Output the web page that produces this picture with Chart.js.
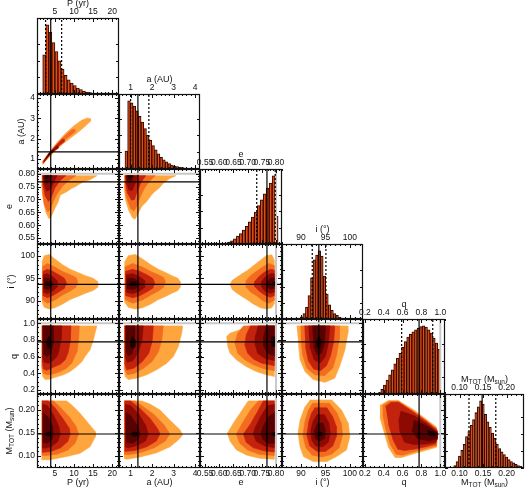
<!DOCTYPE html>
<html lang="en">
<head>
<meta charset="UTF-8" />
<script src="https://cdn.jsdelivr.net/npm/chart.js@4.4.1/dist/chart.umd.min.js"></script>
<title>Corner plot</title>
<style>
  body { margin: 0; background: #fff; width: 525px; height: 490px; position: relative; overflow: hidden; }
  canvas { position: absolute; }
</style>
</head>
<body>
<script>
// tick labels of each parameter
const tickP = [5, 10, 15, 20];
const tickA = [1, 2, 3, 4];
const tickE = [0.55, 0.60, 0.65, 0.70, 0.75, 0.80];
const tickI = [90, 95, 100];
const tickQ = [0.2, 0.4, 0.6, 0.8, 1.0];
const tickM = [0.10, 0.15, 0.20];

// 1D histograms (bin centres, counts)
const binsP = [2.2, 3.0, 3.8, 4.6, 5.4, 6.2, 7.0, 7.8, 8.6, 9.4, 10.2, 11.0, 11.8, 12.6, 13.4, 14.2, 15.0, 15.8, 16.6];
const countsP = [118, 208, 186, 155, 128, 100, 75, 56, 43, 33, 25, 18, 13, 9, 6, 4, 3, 2, 1];
const binsA = [0.8, 0.925, 1.05, 1.175, 1.3, 1.425, 1.55, 1.675, 1.8, 1.925, 2.05, 2.175, 2.3, 2.425, 2.55, 2.675, 2.8, 2.925, 3.05, 3.175, 3.3, 3.425, 3.55, 3.675];
const countsA = [53, 203, 197, 187, 173, 157, 140, 120, 100, 85, 70, 57, 45, 35, 27, 21, 16, 12, 9, 7, 5, 4, 3, 2];
const binsE = [0.613, 0.6235, 0.634, 0.6445, 0.655, 0.6655, 0.676, 0.6865, 0.697, 0.7075, 0.718, 0.7285, 0.739, 0.7495, 0.76, 0.7705, 0.781, 0.7915, 0.802];
const countsE = [1, 3, 6, 10, 16, 24, 32, 42, 54, 67, 82, 97, 117, 134, 152, 170, 185, 207, 84];
const binsI = [89.60, 90.12, 90.64, 91.16, 91.68, 92.20, 92.72, 93.24, 93.76, 94.28, 94.80, 95.32, 95.84, 96.36, 96.88, 97.40, 97.92, 98.44, 98.96];
const countsI = [2, 7, 17, 37, 72, 127, 182, 197, 210, 194, 132, 77, 44, 27, 17, 11, 6, 3, 1];
const binsQ = [0.355, 0.3825, 0.41, 0.4375, 0.465, 0.4925, 0.52, 0.5475, 0.575, 0.6025, 0.63, 0.6575, 0.685, 0.7125, 0.74, 0.7675, 0.795, 0.8225, 0.85, 0.8775, 0.905, 0.9325, 0.96, 0.9875];
const countsQ = [4, 14, 27, 42, 57, 72, 90, 107, 122, 140, 157, 170, 179, 186, 192, 197, 202, 204, 200, 192, 182, 167, 152, 134];
const binsM = [0.090, 0.095, 0.100, 0.105, 0.110, 0.115, 0.120, 0.125, 0.130, 0.135, 0.140, 0.145, 0.150, 0.155, 0.160, 0.165, 0.170, 0.175, 0.180, 0.185, 0.190, 0.195, 0.200, 0.205, 0.210, 0.215, 0.220, 0.225, 0.230];
const countsM = [7, 19, 35, 52, 69, 92, 107, 125, 142, 162, 179, 197, 187, 157, 135, 119, 102, 87, 69, 57, 47, 39, 32, 25, 19, 15, 11, 7, 5];

// marker lines: solid = best value, dotted = 16/84 %, grey = physical limit
const truthVals = [3.9, 1.34, 0.768, 93.65, 0.775, 0.148];
const lowVals = [2.55, 1.0, 0.732, 92.3, 0.59, 0.12];
const highVals = [6.76, 1.85, 0.797, 95.1, 0.92, 0.177];
const limitVals = [null, null, 0.80, null, 1.0, null];

// 2D credible regions, outermost to innermost, [x, y] vertices
const contPA = [
  [[1.7,0.82],[2,0.93],[3,1.2],[4,1.45],[6,1.9],[8,2.3],[10,2.63],[12,2.9],[13.5,3.02],[14.3,2.98],[14.3,2.85],[13,2.62],[11,2.3],[9,2.02],[7,1.72],[5,1.38],[3.5,1.07],[2.5,0.88],[1.8,0.72]],
  [[1.8,0.84],[2,0.91],[3,1.17],[4,1.41],[6,1.84],[8,2.2],[9.5,2.45],[10.2,2.45],[10.2,2.32],[8,2.0],[6,1.68],[4,1.27],[3,1.04],[2,0.8],[1.85,0.75]],
  [[1.9,0.86],[3,1.15],[4,1.38],[5.5,1.7],[7,1.98],[7.4,1.96],[7.4,1.84],[5.5,1.55],[4,1.29],[3,1.06],[2,0.8]],
  [[2.1,0.9],[3,1.13],[4,1.36],[5.5,1.65],[5.8,1.62],[5.8,1.52],[4,1.3],[3,1.08],[2.2,0.86]],
  [[2.6,1.02],[3.5,1.24],[4.5,1.45],[4.7,1.42],[4.6,1.38],[3.5,1.19],[2.7,0.99]],
  [[3.2,1.21],[4,1.37],[4.2,1.33],[3.3,1.16]]
];
const contPE = [
  [[1.5,0.792],[16.0,0.792],[14.2,0.776],[12.5,0.769],[11.6,0.761],[10.3,0.749],[9.4,0.743],[8.1,0.73],[6.4,0.717],[5.9,0.692],[5.0,0.666],[3.9,0.63],[3.4,0.626],[2.5,0.655],[1.8,0.715],[1.5,0.76]],
  [[1.6,0.792],[10.5,0.792],[8.8,0.775],[7.0,0.752],[5.5,0.72],[4.5,0.69],[3.8,0.66],[3.1,0.652],[2.2,0.68],[1.7,0.73]],
  [[1.7,0.792],[7.8,0.792],[6.3,0.772],[5.0,0.745],[4.1,0.71],[3.3,0.692],[2.4,0.715],[1.8,0.76]],
  [[1.8,0.792],[5.6,0.792],[4.7,0.768],[3.8,0.738],[2.8,0.732],[2.0,0.768]],
  [[2.0,0.792],[4.2,0.792],[3.6,0.772],[2.7,0.762],[2.1,0.78]],
  [[2.4,0.792],[3.4,0.792],[3.1,0.782],[2.6,0.78]]
];
const contAE = [
  [[0.69,0.792],[3.11,0.792],[2.83,0.782],[2.52,0.763],[2.33,0.744],[2.13,0.731],[1.98,0.718],[1.75,0.692],[1.52,0.673],[1.40,0.654],[1.28,0.635],[1.20,0.623],[1.08,0.63],[0.9,0.66],[0.76,0.7],[0.7,0.75]],
  [[0.72,0.792],[2.15,0.792],[1.9,0.772],[1.65,0.745],[1.45,0.71],[1.3,0.675],[1.15,0.655],[1.0,0.665],[0.8,0.71],[0.73,0.75]],
  [[0.74,0.792],[1.7,0.792],[1.5,0.768],[1.32,0.735],[1.18,0.70],[1.05,0.697],[0.85,0.725],[0.76,0.765]],
  [[0.76,0.792],[1.35,0.792],[1.22,0.765],[1.08,0.735],[0.92,0.737],[0.79,0.77]],
  [[0.8,0.792],[1.15,0.792],[1.05,0.772],[0.9,0.765],[0.82,0.78]],
  [[0.86,0.792],[1.08,0.792],[1.0,0.782],[0.9,0.781]]
];
const contPI = [
  [[1.6,98.5],[2.2,100],[3.5,100.3],[5,99.3],[7,98],[9,97],[11,96.3],[13,95.6],[15,95],[16.2,94.3],[16.2,93],[15,92.3],[13,91.7],[11,91],[9,90.3],[7,89.3],[5,88.5],[3.5,88.2],[2.2,88.6],[1.6,89.8]],
  [[1.7,97.5],[3,98.3],[5,97.5],[7,96.5],[9,95.8],[10.5,95.2],[11,94.3],[10.5,93],[9,92.2],[7,91.3],[5,90.2],[3,89.5],[1.7,90.3]],
  [[1.8,96.5],[3,97],[4.5,96.5],[6,95.8],[7.5,95],[8,94],[7.5,92.8],[6,92],[4.5,91.2],[3,90.7],[1.8,91.2]],
  [[1.9,95.8],[3,96],[4.5,95.3],[5.5,94.5],[5.5,93],[4.5,92.2],[3,91.6],[1.9,92]],
  [[2.1,95],[3.2,95],[4.2,94.3],[4.2,93.2],[3.2,92.5],[2.1,92.8]],
  [[2.6,94.2],[3.6,94.2],[3.6,93.4],[2.6,93.4]]
];
const contAI = [
  [[0.71,98.5],[0.89,100],[1.22,100.3],[1.55,99.3],[1.94,98],[2.29,97],[2.62,96.3],[2.92,95.6],[3.2,95],[3.3,94.3],[3.3,93],[3.2,92.3],[2.92,91.7],[2.62,91],[2.29,90.3],[1.94,89.3],[1.55,88.5],[1.22,88.2],[0.89,88.6],[0.71,89.8]],
  [[0.73,97.5],[1.1,98.3],[1.55,97.5],[1.94,96.5],[2.29,95.8],[2.53,95.2],[2.62,94.3],[2.53,93],[2.29,92.2],[1.94,91.3],[1.55,90.2],[1.1,89.5],[0.73,90.3]],
  [[0.75,96.5],[1.1,97],[1.44,96.5],[1.75,95.8],[2.03,95],[2.12,94],[2.03,92.8],[1.75,92],[1.44,91.2],[1.1,90.7],[0.75,91.2]],
  [[0.78,95.8],[1.1,96],[1.44,95.3],[1.65,94.5],[1.65,93],[1.44,92.2],[1.1,91.6],[0.78,92]],
  [[0.83,95],[1.14,95],[1.37,94.3],[1.37,93.2],[1.14,92.5],[0.83,92.8]],
  [[0.98,94.2],[1.24,94.2],[1.24,93.4],[0.98,93.4]]
];
const contEI = [
  [[0.795,98.8],[0.785,100.2],[0.765,100],[0.745,99],[0.72,97.8],[0.70,96.8],[0.68,96],[0.66,95.2],[0.645,94.5],[0.638,93.6],[0.645,92.6],[0.66,91.8],[0.68,91],[0.70,90.2],[0.72,89.3],[0.745,88.5],[0.765,88.2],[0.785,88.5],[0.795,89.5]],
  [[0.795,97.8],[0.775,98.3],[0.755,97.6],[0.73,96.5],[0.71,95.6],[0.695,94.5],[0.695,93],[0.71,92],[0.73,91.2],[0.755,90],[0.775,89.5],[0.795,90.2]],
  [[0.795,96.8],[0.78,97],[0.76,96.4],[0.74,95.4],[0.725,94.3],[0.725,93.2],[0.74,92.2],[0.76,91.3],[0.78,90.8],[0.795,91.2]],
  [[0.795,96],[0.78,96],[0.76,95.2],[0.75,94.3],[0.75,93.1],[0.76,92.2],[0.78,91.7],[0.795,92]],
  [[0.795,95.1],[0.78,95],[0.77,94.3],[0.77,93.2],[0.78,92.6],[0.795,92.8]],
  [[0.787,94.2],[0.797,94.2],[0.797,93.4],[0.787,93.4]]
];
const contPQ = [
  [[1.5,0.967],[16,0.967],[15.5,0.88],[15.1,0.80],[14.2,0.68],[12.9,0.60],[12.1,0.54],[10.7,0.48],[9.0,0.42],[7.2,0.38],[5.5,0.356],[3.7,0.33],[2.4,0.324],[1.8,0.36],[1.5,0.48]],
  [[1.55,0.967],[11.4,0.967],[11.2,0.80],[10.8,0.66],[9.4,0.52],[8,0.46],[6.4,0.42],[4.5,0.39],[2.9,0.38],[1.9,0.40],[1.55,0.5]],
  [[1.6,0.967],[9.2,0.967],[9.0,0.78],[8.5,0.65],[7.7,0.56],[6.5,0.51],[5.0,0.48],[2.9,0.435],[2.0,0.45],[1.6,0.55]],
  [[1.7,0.967],[6.8,0.967],[6.6,0.80],[6.0,0.66],[5.5,0.60],[4.5,0.55],[3.3,0.52],[2.2,0.53],[1.7,0.6]],
  [[1.8,0.967],[4.6,0.967],[4.5,0.75],[4.0,0.64],[3.0,0.60],[2.0,0.63]],
  [[3.3,0.85],[3.7,0.8],[3.7,0.72],[3.3,0.69],[2.9,0.72],[2.9,0.8]]
];
const contAQ = [
  [[0.69,0.967],[3.42,0.967],[3.38,0.88],[3.22,0.72],[2.99,0.60],[2.68,0.52],[2.21,0.44],[1.75,0.38],[1.28,0.34],[0.89,0.324],[0.74,0.36],[0.69,0.48]],
  [[0.7,0.967],[2.52,0.967],[2.45,0.80],[2.3,0.66],[2.0,0.54],[1.6,0.46],[1.2,0.40],[0.85,0.38],[0.72,0.45]],
  [[0.72,0.967],[2.06,0.967],[2.0,0.78],[1.85,0.64],[1.55,0.54],[1.15,0.46],[0.82,0.44],[0.72,0.52]],
  [[0.74,0.967],[1.59,0.967],[1.52,0.78],[1.35,0.64],[1.1,0.55],[0.85,0.53],[0.74,0.6]],
  [[0.78,0.967],[1.2,0.967],[1.18,0.76],[1.05,0.63],[0.88,0.61],[0.78,0.66]],
  [[1.1,0.85],[1.2,0.8],[1.2,0.72],[1.1,0.69],[1.0,0.72],[1.0,0.8]]
];
const contEQ = [
  [[0.795,0.967],[0.702,0.967],[0.673,0.92],[0.638,0.88],[0.626,0.84],[0.63,0.72],[0.638,0.64],[0.66,0.56],[0.695,0.48],[0.73,0.42],[0.767,0.38],[0.795,0.36]],
  [[0.795,0.967],[0.685,0.967],[0.665,0.88],[0.655,0.76],[0.665,0.64],[0.69,0.56],[0.72,0.50],[0.76,0.45],[0.795,0.43]],
  [[0.795,0.967],[0.71,0.967],[0.695,0.86],[0.69,0.74],[0.70,0.64],[0.72,0.57],[0.75,0.52],[0.795,0.49]],
  [[0.795,0.967],[0.737,0.967],[0.728,0.85],[0.727,0.74],[0.735,0.64],[0.76,0.58],[0.795,0.55]],
  [[0.795,0.967],[0.765,0.967],[0.757,0.84],[0.757,0.72],[0.77,0.64],[0.795,0.61]],
  [[0.797,0.84],[0.797,0.72],[0.785,0.72],[0.785,0.84]]
];
const contIQ = [
  [[89.1,0.967],[99.6,0.967],[99.6,0.88],[99.0,0.68],[97.9,0.48],[96.9,0.34],[94.9,0.29],[92.5,0.324],[90.8,0.42],[89.8,0.56],[89.4,0.80]],
  [[89.9,0.967],[97.9,0.967],[97.8,0.80],[97.3,0.62],[96.5,0.46],[94.8,0.37],[92.8,0.38],[91.2,0.46],[90.3,0.62],[90.0,0.80]],
  [[90.7,0.967],[96.9,0.967],[96.7,0.78],[96.0,0.60],[95.2,0.49],[94.0,0.43],[92.6,0.45],[91.5,0.55],[90.9,0.72]],
  [[91.5,0.967],[95.9,0.967],[95.6,0.76],[95.0,0.60],[93.9,0.52],[92.7,0.56],[91.8,0.72]],
  [[92.3,0.967],[95.0,0.967],[94.8,0.76],[94.2,0.64],[93.3,0.62],[92.6,0.72]],
  [[93.6,0.85],[94.1,0.8],[94.0,0.72],[93.6,0.69],[93.2,0.72],[93.2,0.8]]
];
const contPM = [
  [[1.5,0.220],[8.1,0.220],[9.4,0.211],[11.6,0.193],[13.8,0.171],[15.6,0.153],[15.6,0.142],[14.2,0.120],[11.6,0.106],[8.1,0.099],[3.7,0.092],[1.5,0.092]],
  [[1.55,0.220],[4.6,0.220],[6.5,0.205],[8.8,0.185],[10.5,0.165],[11.2,0.148],[10.3,0.128],[8.4,0.113],[5.5,0.104],[2.5,0.101],[1.55,0.102]],
  [[1.6,0.220],[3.3,0.220],[5.0,0.205],[7.2,0.18],[8.8,0.16],[9.0,0.148],[8.4,0.132],[6.5,0.118],[4.0,0.110],[1.6,0.108]],
  [[1.7,0.213],[3.0,0.21],[4.6,0.19],[6.0,0.165],[6.4,0.148],[5.8,0.132],[4.3,0.122],[2.5,0.117],[1.7,0.118]],
  [[1.8,0.195],[3.2,0.185],[4.4,0.165],[4.6,0.148],[4.2,0.135],[3.0,0.128],[1.8,0.13]],
  [[3.3,0.153],[3.8,0.151],[3.8,0.145],[3.3,0.143],[2.8,0.145],[2.8,0.151]]
];
const contAM = [
  [[0.69,0.220],[1.52,0.220],[1.90,0.213],[2.37,0.200],[2.83,0.178],[3.3,0.157],[3.42,0.146],[3.22,0.135],[2.83,0.120],[2.21,0.107],[1.44,0.098],[0.82,0.093],[0.69,0.095]],
  [[0.7,0.220],[1.2,0.220],[1.6,0.207],[2.1,0.19],[2.55,0.168],[2.83,0.148],[2.6,0.132],[2.1,0.118],[1.5,0.108],[0.9,0.103],[0.7,0.104]],
  [[0.72,0.220],[1.0,0.220],[1.4,0.205],[1.9,0.182],[2.25,0.16],[2.37,0.148],[2.2,0.133],[1.75,0.12],[1.2,0.112],[0.72,0.11]],
  [[0.74,0.212],[1.0,0.21],[1.4,0.19],[1.7,0.167],[1.82,0.148],[1.7,0.133],[1.3,0.123],[0.9,0.118],[0.74,0.12]],
  [[0.76,0.196],[1.0,0.188],[1.3,0.167],[1.44,0.148],[1.35,0.136],[1.1,0.128],[0.8,0.13]],
  [[1.18,0.153],[1.3,0.151],[1.3,0.145],[1.18,0.143],[1.06,0.145],[1.06,0.151]]
];
const contEM = [
  [[0.795,0.220],[0.702,0.220],[0.69,0.209],[0.673,0.193],[0.649,0.171],[0.629,0.150],[0.638,0.132],[0.661,0.113],[0.697,0.102],[0.743,0.095],[0.795,0.093]],
  [[0.795,0.220],[0.738,0.220],[0.71,0.2],[0.685,0.175],[0.66,0.148],[0.672,0.128],[0.70,0.113],[0.74,0.104],[0.795,0.101]],
  [[0.795,0.220],[0.755,0.220],[0.735,0.197],[0.71,0.17],[0.685,0.148],[0.695,0.13],[0.72,0.118],[0.76,0.111],[0.795,0.109]],
  [[0.795,0.212],[0.77,0.21],[0.745,0.185],[0.725,0.16],[0.72,0.148],[0.73,0.132],[0.76,0.122],[0.795,0.118]],
  [[0.795,0.195],[0.775,0.187],[0.755,0.165],[0.747,0.148],[0.755,0.135],[0.775,0.128],[0.795,0.128]],
  [[0.797,0.153],[0.797,0.143],[0.785,0.145],[0.785,0.151]]
];
const contIM = [
  [[91.8,0.222],[96.3,0.222],[98.3,0.200],[99.7,0.171],[100,0.142],[99.3,0.113],[97.3,0.099],[95.3,0.088],[92.5,0.088],[90.5,0.099],[89.8,0.120],[89.4,0.150],[89.8,0.178],[90.8,0.207]],
  [[92.3,0.215],[95.8,0.215],[97.3,0.195],[98.3,0.170],[98.5,0.145],[97.8,0.118],[96.3,0.104],[94.3,0.098],[92.3,0.102],[91.0,0.118],[90.4,0.145],[90.8,0.175],[91.5,0.200]],
  [[92.8,0.205],[95.3,0.205],[96.5,0.185],[97.2,0.165],[97.2,0.142],[96.5,0.122],[95.0,0.110],[93.3,0.110],[91.8,0.122],[91.2,0.145],[91.6,0.175],[92.2,0.195]],
  [[93.2,0.190],[94.8,0.19],[95.7,0.172],[96.0,0.15],[95.6,0.13],[94.4,0.12],[93.0,0.122],[92.2,0.135],[92.0,0.155],[92.5,0.177]],
  [[93.3,0.172],[94.5,0.172],[95.0,0.155],[94.8,0.138],[93.8,0.132],[92.9,0.138],[92.7,0.155]],
  [[93.4,0.152],[94.2,0.152],[94.2,0.144],[93.4,0.144]]
];
const contQM = [
  [[0.36,0.210],[0.45,0.221],[0.555,0.221],[0.73,0.199],[0.87,0.177],[0.96,0.163],[0.97,0.141],[0.96,0.119],[0.84,0.112],[0.70,0.104],[0.59,0.097],[0.52,0.097],[0.45,0.119],[0.40,0.155],[0.36,0.184]],
  [[0.39,0.210],[0.46,0.219],[0.55,0.219],[0.72,0.197],[0.86,0.176],[0.96,0.160],[0.965,0.14],[0.955,0.122],[0.84,0.116],[0.70,0.108],[0.6,0.102],[0.53,0.104],[0.47,0.125],[0.42,0.16],[0.39,0.19]],
  [[0.42,0.208],[0.48,0.217],[0.56,0.217],[0.72,0.195],[0.86,0.174],[0.96,0.157],[0.965,0.138],[0.95,0.126],[0.84,0.12],[0.72,0.115],[0.62,0.112],[0.55,0.115],[0.5,0.135],[0.45,0.17]],
  [[0.58,0.198],[0.72,0.188],[0.86,0.17],[0.96,0.154],[0.965,0.136],[0.95,0.13],[0.84,0.126],[0.72,0.125],[0.62,0.13],[0.57,0.155],[0.56,0.18]],
  [[0.72,0.178],[0.86,0.165],[0.96,0.152],[0.965,0.138],[0.88,0.133],[0.76,0.138],[0.7,0.155]],
  [[0.86,0.156],[0.94,0.152],[0.95,0.144],[0.88,0.145]]
];

// ---- layout & style ----
const FONT = 'Liberation Sans';
Chart.defaults.font.family = FONT;
const colEdges = [37, 119, 200, 282, 363, 445, 524];
const rowEdges = [18, 94, 169, 244, 319, 394, 468];
const PAD = { l: 40, t: 20, r: 14, b: 26 };
const LEVEL_COLORS = ['#FFA53E', '#F26B1E', '#C3220D', '#8C0A02', '#560202', '#1E0000'];
const HIST_FILL = '#E64A12', HIST_EDGE = '#2b0a00';

const varOrder = ['P', 'a', 'e', 'i', 'q', 'M'];
const tickVals = { P: tickP, a: tickA, e: tickE, i: tickI, q: tickQ, M: tickM };
const hists = { P: [binsP, countsP], a: [binsA, countsA], e: [binsE, countsE], i: [binsI, countsI], q: [binsQ, countsQ], M: [binsM, countsM] };
const contours = {
  'P|a': contPA, 'P|e': contPE, 'a|e': contAE, 'P|i': contPI, 'a|i': contAI, 'e|i': contEI,
  'P|q': contPQ, 'a|q': contAQ, 'e|q': contEQ, 'i|q': contIQ,
  'P|M': contPM, 'a|M': contAM, 'e|M': contEM, 'i|M': contIM, 'q|M': contQM
};
const rangeX = { P: [0.3, 21.8], a: [0.46, 4.23], e: [0.532, 0.821], i: [86.1, 102.7], q: [0.18, 1.05], M: [0.069, 0.237] };
const rangeY = { a: [0.5, 4.2], e: [0.527, 0.818], i: [86.0, 102.6], q: [0.15, 1.05], M: [0.074, 0.235] };
const minorStep = { P: 1, a: 0.2, e: 0.01, i: 1, q: 0.05, M: 0.01 };
const decimals = { P: 0, a: 0, e: 2, i: 0, q: 1, M: 2 };
const axisTitle = {
  P: [['P (yr)']], a: [['a (AU)']], e: [['e']], i: [['i (°)']], q: [['q']],
  M: [['M'], ['TOT', 1], [' (M'], ['sun', 1], [')']]
};
const fmt = (v, t) => Number(t).toFixed(decimals[v]);

function baseScale(v, range, show, pad) {
  return {
    type: 'linear', display: show, min: range[0], max: range[1], offset: false,
    afterBuildTicks: sc => { sc.ticks = tickVals[v].map(t => ({ value: t })); },
    grid: { display: false, drawTicks: false }, border: { display: false },
    ticks: { autoSkip: false, maxRotation: 0, minRotation: 0, padding: pad, color: '#111',
      font: { family: FONT, size: 8.5 }, callback: t => fmt(v, t) }
  };
}
function xScale(v, pos, show) {
  const s = baseScale(v, rangeX[v], show, 1);
  s.position = pos;
  if (show) s.afterFit = sc => { sc.height = pos === 'top' ? PAD.t : PAD.b; };
  return s;
}
function yScale(v, show) {
  const s = baseScale(v, rangeY[v], show, 2);
  s.position = 'left';
  if (show) s.afterFit = sc => { sc.width = PAD.l; };
  return s;
}

function seg(x0, y0, x1, y1, color, width, dash) {
  return { type: 'line', data: [{ x: x0, y: y0 }, { x: x1, y: y1 }], borderColor: color, borderWidth: width,
    borderDash: dash || [], pointRadius: 0, fill: false, order: 0, xAxisID: 'x', yAxisID: 'y' };
}

function drawRich(ctx, parts, x, y, rotate) {
  const big = '9px ' + FONT, small = '6.5px ' + FONT;
  let total = 0;
  parts.forEach(p => { ctx.font = p[1] ? small : big; total += ctx.measureText(p[0]).width; });
  ctx.save();
  ctx.translate(x, y);
  if (rotate) ctx.rotate(-Math.PI / 2);
  ctx.textBaseline = 'middle'; ctx.textAlign = 'left'; ctx.fillStyle = '#111';
  let cx = -total / 2;
  parts.forEach(p => {
    ctx.font = p[1] ? small : big;
    ctx.fillText(p[0], cx, p[1] ? 2.5 : 0);
    cx += ctx.measureText(p[0]).width;
  });
  ctx.restore();
}

function framePlugin(vx, vy, isHist, titles) {
  return {
    id: 'frame',
    afterDraw(chart) {
      const { ctx, chartArea: a } = chart;
      const sx = chart.scales.x, sy = chart.scales.y;
      ctx.save();
      ctx.strokeStyle = '#111'; ctx.lineWidth = 1;
      ctx.beginPath();
      const tx = (v, len) => { const p = Math.round(sx.getPixelForValue(v)) + 0.5;
        ctx.moveTo(p, a.bottom); ctx.lineTo(p, a.bottom - len); ctx.moveTo(p, a.top); ctx.lineTo(p, a.top + len); };
      const ty = (v, len) => { const p = Math.round(sy.getPixelForValue(v)) + 0.5;
        ctx.moveTo(a.left, p); ctx.lineTo(a.left + len, p); ctx.moveTo(a.right, p); ctx.lineTo(a.right - len, p); };
      const minors = (v, s) => { const st = minorStep[v], out = [];
        for (let k = Math.ceil(s.min / st - 1e-6); k * st <= s.max + 1e-9; k++) out.push(k * st); return out; };
      minors(vx, sx).forEach(v => tx(v, 2));
      tickVals[vx].forEach(v => tx(v, 4));
      if (isHist) {
        sy.ticks.forEach(t => ty(t.value, 3));
      } else {
        minors(vy, sy).forEach(v => ty(v, 2));
        tickVals[vy].forEach(v => ty(v, 4));
      }
      ctx.stroke();
      ctx.lineWidth = 1.2;
      ctx.strokeRect(a.left + 0.5, a.top + 0.5, a.width - 1, a.height - 1);
      const midX = (a.left + a.right) / 2;
      if (titles.top) drawRich(ctx, axisTitle[vx], midX, a.top - 14, false);
      if (titles.bottom) drawRich(ctx, axisTitle[vx], midX, a.bottom + 15, false);
      if (titles.left) {
        ctx.font = '8.5px ' + FONT;
        const w = Math.max(...tickVals[vy].map(t => ctx.measureText(fmt(vy, t)).width));
        drawRich(ctx, axisTitle[vy], a.left - 2 - w - 9, (a.top + a.bottom) / 2, true);
      }
      ctx.restore();
    }
  };
}

function makePanel(r, c) {
  const vx = varOrder[c], vy = varOrder[r];
  const isHist = r === c;
  const w = colEdges[c + 1] - colEdges[c], h = rowEdges[r + 1] - rowEdges[r];
  const cv = document.createElement('canvas');
  cv.width = w + PAD.l + PAD.r; cv.height = h + PAD.t + PAD.b;
  cv.style.left = (colEdges[c] - PAD.l) + 'px';
  cv.style.top = (rowEdges[r] - PAD.t) + 'px';
  document.body.appendChild(cv);

  const showBottom = r === 5, showLeft = c === 0 && !isHist;
  const scales = {};
  const datasets = [];
  let showTop = false;
  const ci = c, ri = r;

  if (isHist) {
    showTop = true;
    const [bins, counts] = hists[vx];
    const ymax = Math.max(...counts) * 1.1;
    scales.x = xScale(vx, 'top', true);
    if (showBottom) scales.x2 = xScale(vx, 'bottom', true);
    scales.y = { type: 'linear', display: false, min: 0, max: ymax, ticks: { stepSize: 50 } };
    datasets.push({ type: 'bar', data: bins.map((b, k) => ({ x: b, y: counts[k] })),
      backgroundColor: HIST_FILL, borderColor: HIST_EDGE, borderWidth: 1,
      barPercentage: 1, categoryPercentage: 1, order: 1, xAxisID: 'x', yAxisID: 'y' });
    datasets.push(seg(truthVals[ci], 0, truthVals[ci], ymax, '#000', 1.2));
    datasets.push(seg(lowVals[ci], 0, lowVals[ci], ymax, '#000', 1.2, [2, 2]));
    datasets.push(seg(highVals[ci], 0, highVals[ci], ymax, '#000', 1.2, [2, 2]));
    if (limitVals[ci] !== null) datasets.push(seg(limitVals[ci], 0, limitVals[ci], ymax, '#c8c8c8', 2));
  } else {
    scales.x = xScale(vx, 'bottom', showBottom);
    scales.y = yScale(vy, showLeft);
    const [x0, x1] = rangeX[vx], [y0, y1] = rangeY[vy];
    if (limitVals[ci] !== null) datasets.push(seg(limitVals[ci], y0, limitVals[ci], y1, '#c8c8c8', 2));
    if (limitVals[ri] !== null) datasets.push(seg(x0, limitVals[ri], x1, limitVals[ri], '#c8c8c8', 2));
    datasets.push(seg(truthVals[ci], y0, truthVals[ci], y1, '#000', 1.2));
    datasets.push(seg(x0, truthVals[ri], x1, truthVals[ri], '#000', 1.2));
    contours[vx + '|' + vy].forEach((pts, k) => {
      datasets.push({ type: 'scatter', data: pts.map(p => ({ x: p[0], y: p[1] })), showLine: true,
        fill: 'shape', backgroundColor: LEVEL_COLORS[k], borderColor: LEVEL_COLORS[k], borderWidth: 0.6,
        pointRadius: 0, tension: 0, order: 10 - k, xAxisID: 'x', yAxisID: 'y' });
    });
  }

  new Chart(cv.getContext('2d'), {
    type: isHist ? 'bar' : 'scatter',
    data: { datasets },
    options: {
      responsive: false, animation: false, events: [],
      layout: { padding: { left: showLeft ? 0 : PAD.l, top: showTop ? 0 : PAD.t, right: PAD.r, bottom: showBottom ? 0 : PAD.b } },
      plugins: { legend: { display: false }, tooltip: { enabled: false } },
      scales
    },
    plugins: [framePlugin(vx, vy, isHist, { top: isHist, bottom: showBottom, left: showLeft })]
  });
}

for (let r = 0; r < 6; r++) {
  for (let c = 0; c <= r; c++) makePanel(r, c);
}
</script>
</body>
</html>
